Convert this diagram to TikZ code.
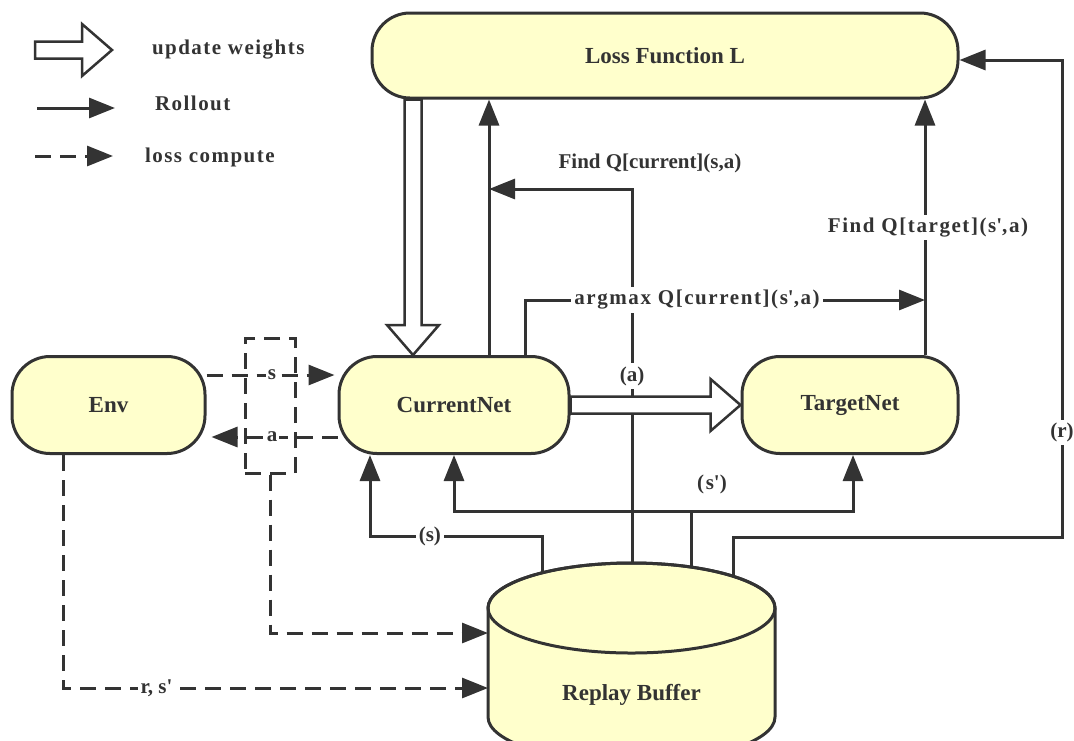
\documentclass[tikz,border=0pt]{standalone}
\usepackage{fontspec}
\setmainfont{Liberation Serif}
\newfontfamily\legfont{Liberation Serif}[LetterSpace=7]
\newfontfamily\spfont{Liberation Serif}[LetterSpace=7.5]
\usetikzlibrary{arrows.meta, positioning, calc}
\definecolor{rbfill}{HTML}{FFFFCC}
\definecolor{rbline}{HTML}{333333}
\newcommand{\sq}{\textquotesingle}

\begin{document}
\begin{tikzpicture}[
  x=0.5pt, y=-0.5pt,
  every node/.style={text=rbline, font=\fontsize{10.5}{12}\selectfont\bfseries},
  box/.style={draw=rbline, fill=rbfill, line width=1.5pt, rounded corners=19pt,
    minimum height=48.5pt, font=\fontsize{11.5}{14}\selectfont\bfseries},
  roll/.style={draw=rbline, line width=1.5pt, -{Triangle[length=13pt, width=10pt]}},
  lossc/.style={roll, dash pattern=on 8pt off 4.5pt},
  lbl/.style={fill=white, inner sep=1.5pt},
  wide/.style={font=\fontsize{10.5}{12}\selectfont\spfont\bfseries},
  legtxt/.style={anchor=west, font=\fontsize{10.5}{12}\selectfont\legfont\bfseries},
  updw/.style={draw=rbline, fill=white, line width=1.25pt, to path={
    let \p1=($(\tikztotarget)-(\tikztostart)$), \n1={atan2(\y1,\x1)},
        \n2={veclen(\x1,\y1)-15pt} in
    ($(\tikztostart)+(\n1+90:4.25pt)$) -- ($(\tikztostart)+(\n1:\n2)+(\n1+90:4.25pt)$)
    -- ($(\tikztostart)+(\n1:\n2)+(\n1+90:13pt)$) -- (\tikztotarget)
    -- ($(\tikztostart)+(\n1:\n2)+(\n1-90:13pt)$) -- ($(\tikztostart)+(\n1:\n2)+(\n1-90:4.25pt)$)
    -- ($(\tikztostart)+(\n1-90:4.25pt)$) -- cycle}}
]
\useasboundingbox (0,0) rectangle (1074,740);

% legend
\coordinate (lu1) at (35,50);  \coordinate (lu2) at (112,50);
\coordinate (lr1) at (37,108); \coordinate (lr2) at (115,108);
\coordinate (ll1) at (35,156); \coordinate (ll2) at (113,156);
\draw[updw] (lu1) to (lu2);
\draw[roll] (lr1) -- (lr2);
\draw[lossc] (ll1) -- (ll2);
\node[legtxt] (legup) at (145,50) {update weights};
\node[legtxt] (legro) at (148,103) {Rollout};
\node[legtxt] (leglc) at (138,157) {loss compute};

% nets
\node[box, minimum width=96.5pt] (env) at (108.5,405) {Env};
\node[box, minimum width=115pt] (curr) at (454,405) {CurrentNet};
\node[box, minimum width=108pt] (tgt) at (850,405) {TargetNet};
\node[box, minimum width=293pt, minimum height=42.5pt] (loss) at (665,55.5) {Loss Function L};

% replay buffer
\draw[draw=rbline, fill=rbfill, line width=1.5pt] (488,608) -- (488,717)
  arc[start angle=180, end angle=360, x radius=71.75pt, y radius=22.5pt] -- (775,608)
  arc[start angle=0, end angle=180, x radius=71.75pt, y radius=22.5pt] -- cycle;
\draw[draw=rbline, line width=1.5pt] (631.5,608) ellipse [x radius=71.75pt, y radius=22.5pt];
\node[font=\fontsize{11.5}{14}\selectfont\bfseries] (buf) at (631.5,695) {Replay Buffer};
\coordinate (bs) at (542,572.8);
\coordinate (ba) at (632,563);
\coordinate (bp) at (691,567);
\coordinate (br) at (733,576.2);
\coordinate (bl1) at (488,633);
\coordinate (bl2) at (488,688);

% s / a exchange
\node[draw=rbline, line width=1.5pt, dash pattern=on 8pt off 4.5pt, minimum width=25pt,
  minimum height=67.5pt, inner sep=0pt] (sabox) at (270,405.5) {};
\draw[lossc, shorten >=1.5pt] ([yshift=15pt]env.east) -- node[lbl, inner sep=1pt]{s} ([yshift=15pt]curr.west);
\draw[lossc, shorten >=2.5pt] ([yshift=-16pt]curr.west) -- node[lbl, inner sep=1pt]{a} ([yshift=-16pt]env.east);
\draw[lossc] (sabox.south) |- (bl1);
\draw[lossc] ([xshift=-22.75pt]env.south) |- node[lbl, pos=0.61]{r, s\sq} (bl2);

% rollout
\coordinate (cu) at ([xshift=17.5pt]curr.north);
\coordinate (ca) at ([xshift=35.5pt]curr.north);
\coordinate (tu) at ([xshift=37.5pt]tgt.north);
\coordinate (cs) at ([xshift=-42pt]curr.south);
\draw[roll] (cu) -- (cu |- loss.south);
\draw[roll] (tu) -- node[lbl, wide, xshift=1.5pt]{Find Q[target](s\sq,a)} (tu |- loss.south);
\draw[roll] (ba) -- node[lbl]{(a)} (ba |- 0,189) -- (cu |- 0,189);
\node (fqc) at (650,163) {Find Q[current](s,a)};
\draw[roll] (ca) |- node[lbl, wide, pos=0.715]{argmax Q[current](s\sq,a)} (tu |- 0,300);
\draw[roll] (bs) |- node[lbl, pos=0.826]{(s)} (cs |- 0,536) -- (cs);
\draw[roll] (bp) -- (bp |- 0,511) -| (curr.south);
\draw[roll] (bp |- 0,511) -| ([xshift=1.5pt]tgt.south);
\node[wide] (sp) at (712,484) {(s\sq)};
\draw[roll] (br) |- (1062,537) -- node[lbl, pos=0.22]{(r)} (1062,60) -- (loss.east |- 0,60);

% update weights
\coordinate (w1) at ([xshift=-126pt]loss.south);
\coordinate (w2) at ([xshift=-20.5pt]curr.north);
\draw[updw] (w1) to (w2);
\draw[updw] (curr.east) to (tgt.west);
\end{tikzpicture}
\end{document}
